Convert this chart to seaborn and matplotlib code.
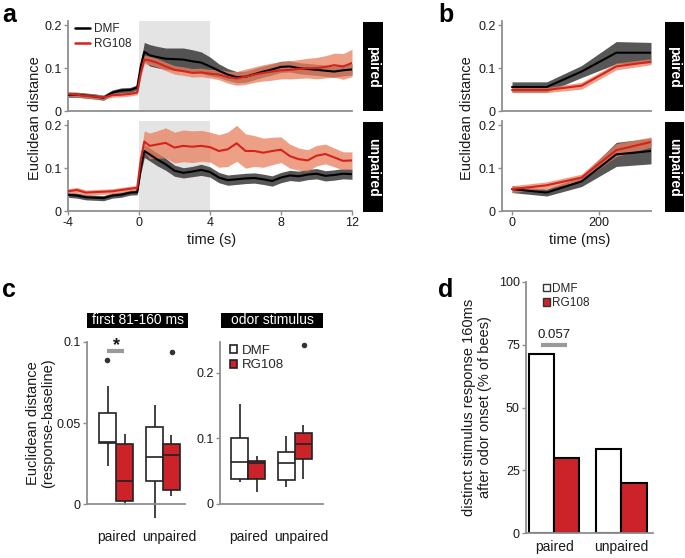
import numpy as np
import pandas as pd
import matplotlib
matplotlib.use("Agg")
import matplotlib.pyplot as plt
from matplotlib.lines import Line2D
from matplotlib.patches import Patch
import seaborn as sns

# ---------------- data ----------------
# panel a: time (s), mean trace and half-width of shaded band
t_a = [-4, -3.5, -3, -2.5, -2, -1.5, -1, -0.5, -0.1,
       0.1, 0.3, 0.6,
       1, 1.5, 2, 2.5, 3, 3.5, 4,
       4.5, 5, 5.5, 6, 6.5, 7, 7.5, 8, 8.5, 9, 9.5, 10, 10.5, 11, 11.5, 12]

paired_dmf = [.038, .038, .036, .034, .031, .043, .048, .049, .055,
              .105, .138, .130,
              .126, .122, .121, .120, .116, .113, .104,
              .094, .085, .079, .080, .086, .092, .097, .103, .104, .100, .098, .096, .094, .092, .095, .097]
paired_dmf_hw = [.006] * 9 + [.012, .022, .025] + [.025, .025, .026, .027, .027, .025, .022] + \
                [.016, .014, .013, .013, .013, .013, .013, .013, .013, .013, .013, .013, .013, .013, .013, .013]

paired_rg = [.040, .038, .035, .034, .032, .037, .038, .040, .043,
             .088, .120, .118,
             .113, .104, .096, .093, .089, .090, .087,
             .085, .079, .076, .080, .085, .089, .092, .095, .096, .098, .100, .100, .103, .107, .104, .112]
paired_rg_hw = [.005] * 9 + [.008, .010, .010] + [.010] * 7 + \
               [.012, .014, .016, .018, .018, .019, .020, .020, .021, .022, .023, .025, .026, .028, .030, .032]

unpaired_dmf = [.038, .036, .032, .031, .030, .036, .038, .043, .044,
                .100, .140, .132,
                .121, .109, .094, .089, .092, .096, .091,
                .078, .072, .074, .076, .077, .074, .070, .078, .083, .081, .085, .087, .082, .084, .087, .086]
unpaired_dmf_hw = [.006] * 9 + [.012, .015, .015] + [.015, .014, .013, .012, .012, .013, .012] + [.012] * 16

unpaired_rg = [.046, .049, .043, .044, .045, .046, .049, .052, .054,
               .120, .162, .152,
               .155, .159, .148, .152, .150, .152, .149,
               .140, .144, .158, .140, .140, .136, .140, .143, .128, .121, .118, .129, .133, .125, .117, .118]
unpaired_rg_hw = [.006] * 9 + [.015, .025, .030] + [.032, .035, .036, .037, .037, .036, .035] + \
                 [.038, .040, .042, .040, .036, .034, .032, .030, .028, .026, .025, .024, .023, .022, .021, .020]

# panel b: first 320 ms
t_b = [0, 80, 160, 240, 320]
b_paired_dmf = [.056, .056, .092, .136, .136]
b_paired_dmf_hw = [.012, .012, .014, .026, .024]
b_paired_rg = [.049, .049, .059, .104, .115]
b_paired_rg_hw = [.006, .006, .008, .008, .007]
b_unpaired_dmf = [.051, .043, .069, .132, .140]
b_unpaired_dmf_hw = [.008, .008, .012, .028, .030]
b_unpaired_rg = [.051, .060, .078, .142, .161]
b_unpaired_rg_hw = [.008, .008, .008, .015, .012]

# panel c: box summaries (low whisker, Q1, median, Q3, high whisker)
conditions = ["paired", "unpaired"]
treatments = ["DMF", "RG108"]
early_paired_dmf = [0.0237, 0.0375, 0.038, 0.056, 0.0726]
early_paired_rg = [-0.0006, 0.0016, 0.0142, 0.037, 0.0433]
early_unpaired_dmf = [-0.0087, 0.014, 0.0293, 0.0474, 0.0612]
early_unpaired_rg = [0.005, 0.0087, 0.0303, 0.037, 0.0427]
early_outliers = [("paired", "DMF", 0.0887), ("unpaired", "RG108", 0.0936)]

odor_paired_dmf = [0.034, 0.038, 0.0645, 0.101, 0.152]
odor_paired_rg = [0.019, 0.038, 0.063, 0.0655, 0.073]
odor_unpaired_dmf = [0.0254, 0.0366, 0.062, 0.0797, 0.104]
odor_unpaired_rg = [0.0376, 0.068, 0.0914, 0.109, 0.121]
odor_outliers = [("unpaired", "RG108", 0.243)]

# panel d: % of bees
d_dmf = [71.4, 33.3]
d_rg = [30.0, 20.0]

# ---------------- style ----------------
sns.set_theme(style="ticks")
plt.rcParams["font.family"] = ["Liberation Sans", "DejaVu Sans"]
RED = "#d4231d"
BOXRED = "#cc2229"
RED_BAND = "#e9805f"
BLK_BAND = "#3a3a3a"
SPINE = "#8f8f8f"
TXT = "#1a1a1a"

W, H = 685, 558
fig = plt.figure(figsize=(W / 100, H / 100), dpi=100)


def px_axes(x0, y0, x1, y1, **kw):
    return fig.add_axes([x0 / W, 1 - y1 / H, (x1 - x0) / W, (y1 - y0) / H], **kw)


def style_axes(ax):
    sns.despine(ax=ax)
    for s in ("left", "bottom"):
        ax.spines[s].set_color(SPINE)
        ax.spines[s].set_linewidth(1.3)
    ax.tick_params(colors=SPINE, labelcolor=TXT, labelsize=9, length=3, width=1, pad=1.5)


def label_box(x0, y0, x1, y1, text, rot=-90, size=10):
    bx = px_axes(x0, y0, x1, y1)
    bx.set_facecolor("black")
    bx.set_xticks([])
    bx.set_yticks([])
    for s in bx.spines.values():
        s.set_visible(False)
    bx.text(0.5, 0.5, text, color="white", rotation=rot, ha="center", va="center",
            fontsize=size, fontweight="bold" if rot else "normal", transform=bx.transAxes)


def trace(ax, t, mean, hw, band, alpha):
    lo = np.array(mean) - np.array(hw)
    hi = np.array(mean) + np.array(hw)
    ax.fill_between(t, lo, hi, color=band, alpha=alpha, lw=0, zorder=1)


def lines(ax, t, dmf, rg):
    df = pd.DataFrame({"time": list(t) * 2, "value": list(dmf) + list(rg),
                       "group": ["DMF"] * len(t) + ["RG108"] * len(t)})
    sns.lineplot(data=df, x="time", y="value", hue="group", palette={"DMF": "black", "RG108": RED},
                 linewidth=1.5, legend=False, ax=ax, zorder=3)


# ---------------- panel a ----------------
a_top = px_axes(68, 21, 352, 111)
a_bot = px_axes(68, 121, 352, 211)
for ax, dm, dmh, rg, rgh in [(a_top, paired_dmf, paired_dmf_hw, paired_rg, paired_rg_hw),
                             (a_bot, unpaired_dmf, unpaired_dmf_hw, unpaired_rg, unpaired_rg_hw)]:
    ax.axvspan(0, 4, color="#e4e4e4", lw=0, zorder=0)
    trace(ax, t_a, dm, dmh, BLK_BAND, 0.85)
    trace(ax, t_a, rg, rgh, RED_BAND, 0.75)
    lines(ax, t_a, dm, rg)
    ax.set_xlim(-4, 12)
    ax.set_ylim(0, 0.21)
    ax.set_yticks([0, 0.1, 0.2])
    ax.set_yticklabels(["0", "0.1", "0.2"])
    ax.set_xlabel("")
    ax.set_ylabel("")
    style_axes(ax)
a_top.set_xticks([])
a_bot.set_xticks([-4, 0, 4, 8, 12])
a_bot.set_xticklabels(["-4", "0", "4", "8", "12"])
a_top.legend(handles=[Line2D([], [], color="black", lw=1.8, label="DMF"),
                      Line2D([], [], color=RED, lw=1.8, label="RG108")],
             loc="upper left", bbox_to_anchor=(0.0, 1.06), frameon=False, fontsize=8.5,
             handlelength=1.3, handletextpad=0.3, labelspacing=0.25, borderaxespad=0.2)
fig.text(35 / W, 1 - 118 / H, "Euclidean distance", rotation=90, ha="center", va="center", fontsize=10.5, color=TXT)
fig.text(212 / W, 1 - 240 / H, "time (s)", ha="center", va="center", fontsize=10.5, color=TXT)
label_box(363, 22, 383, 111, "paired")
label_box(363, 122, 383, 212, "unpaired")

# ---------------- panel b ----------------
b_top = px_axes(502, 21, 651, 111)
b_bot = px_axes(502, 121, 651, 211)
for ax, dm, dmh, rg, rgh in [(b_top, b_paired_dmf, b_paired_dmf_hw, b_paired_rg, b_paired_rg_hw),
                             (b_bot, b_unpaired_dmf, b_unpaired_dmf_hw, b_unpaired_rg, b_unpaired_rg_hw)]:
    trace(ax, t_b, dm, dmh, BLK_BAND, 0.85)
    trace(ax, t_b, rg, rgh, RED_BAND, 0.75)
    lines(ax, t_b, dm, rg)
    ax.set_xlim(-23, 320)
    ax.set_ylim(0, 0.21)
    ax.set_yticks([0, 0.1, 0.2])
    ax.set_yticklabels(["0", "0.1", "0.2"])
    ax.set_xlabel("")
    ax.set_ylabel("")
    style_axes(ax)
b_top.set_xticks([])
b_bot.set_xticks([0, 200])
fig.text(467 / W, 1 - 118 / H, "Euclidean distance", rotation=90, ha="center", va="center", fontsize=10.5, color=TXT)
fig.text(580 / W, 1 - 240 / H, "time (ms)", ha="center", va="center", fontsize=10.5, color=TXT)
label_box(665, 22, 684, 111, "paired")
label_box(665, 122, 684, 212, "unpaired")


# ---------------- panel c ----------------
def box_df(pd_, pr, ud, ur):
    rows = []
    for cond, trt, vals in [("paired", "DMF", pd_), ("paired", "RG108", pr),
                            ("unpaired", "DMF", ud), ("unpaired", "RG108", ur)]:
        rows += [(cond, trt, v) for v in vals]
    return pd.DataFrame(rows, columns=["condition", "treatment", "value"])


def box_panel(ax, df, outliers, ylim, legend):
    sns.boxplot(data=df, x="condition", y="value", hue="treatment", order=conditions, hue_order=treatments,
                palette={"DMF": "white", "RG108": BOXRED}, saturation=1, linecolor="#222222", linewidth=1.2,
                width=0.72, whis=(0, 100), showfliers=False, legend=legend, ax=ax,
                capprops={"linewidth": 0})
    od = pd.DataFrame(outliers, columns=["condition", "treatment", "value"])
    sns.stripplot(data=od, x="condition", y="value", hue="treatment", order=conditions, hue_order=treatments,
                  palette={"DMF": "#333333", "RG108": "#333333"}, dodge=True, jitter=False, size=4,
                  legend=False, ax=ax)
    ax.set_ylim(*ylim)
    ax.set_xlabel("")
    ax.set_ylabel("")
    style_axes(ax)
    ax.spines["bottom"].set_position(("data", 0))
    ax.spines["left"].set_bounds(0, ylim[1])
    # labels sit a little right of the "unpaired" group centre, as in the figure
    ax.set_xticks([0, 1.13])
    ax.set_xticklabels(conditions)
    ax.tick_params(axis="x", length=0, pad=19, labelsize=10)


c_left = px_axes(87, 342, 185, 523)
box_panel(c_left, box_df(early_paired_dmf, early_paired_rg, early_unpaired_dmf, early_unpaired_rg),
          early_outliers, (-0.0117, 0.1), False)
c_left.set_xlim(-0.62, 1.47)
c_left.set_yticks([0, 0.05, 0.1])
c_left.set_yticklabels(["0", "0.05", "0.1"])
c_left.plot([-0.19, 0.17], [0.0946, 0.0946], color="#9a9a9a", lw=3, solid_capstyle="butt", clip_on=False)
c_left.text(0.0, 0.0975, "*", ha="center", va="center", fontsize=13, fontweight="bold", color=TXT)

c_right = px_axes(220, 342, 323, 523)
box_panel(c_right, box_df(odor_paired_dmf, odor_paired_rg, odor_unpaired_dmf, odor_unpaired_rg),
          odor_outliers, (-0.029, 0.247), True)
c_right.set_xlim(-0.6, 1.6)
c_right.set_yticks([0, 0.1, 0.2])
c_right.set_yticklabels(["0", "0.1", "0.2"])
c_right.legend(loc="upper left", bbox_to_anchor=(-0.02, 1.05), frameon=False, fontsize=9.5,
               handlelength=0.55, handleheight=0.55, handletextpad=0.35, labelspacing=0.2)

label_box(87, 313, 188, 328, "first 81-160 ms", rot=0, size=10)
label_box(221, 313, 323, 328, "odor stimulus", rot=0, size=10)
fig.text(41 / W, 1 - 423 / H, "Euclidean distance\n(response-baseline)", rotation=90, ha="center",
         va="center", fontsize=10.5, color=TXT, linespacing=1.1)

# ---------------- panel d ----------------
d_ax = px_axes(526, 282, 653, 533)
dd = pd.DataFrame({"condition": conditions * 2, "treatment": ["DMF"] * 2 + ["RG108"] * 2,
                   "percent": d_dmf + d_rg})
sns.barplot(data=dd, x="condition", y="percent", hue="treatment", order=conditions, hue_order=treatments,
            palette={"DMF": "white", "RG108": BOXRED}, saturation=1, edgecolor="black", linewidth=1.5,
            width=0.75, legend=False, ax=d_ax)
d_ax.set_xlim(-0.42, 1.47)
d_ax.set_ylim(0, 100)
d_ax.set_yticks([0, 25, 50, 75, 100])
d_ax.set_xlabel("")
d_ax.set_ylabel("")
style_axes(d_ax)
d_ax.tick_params(axis="x", length=0, pad=5, labelsize=10)
d_ax.plot([-0.19, 0.19], [75, 75], color="#9a9a9a", lw=3, solid_capstyle="butt", clip_on=False)
d_ax.text(0.0, 78.8, "0.057", ha="center", va="center", fontsize=9.5, color=TXT)
d_ax.legend(handles=[Patch(facecolor="white", edgecolor="#333333", label="DMF"),
                     Patch(facecolor=BOXRED, edgecolor="#333333", label="RG108")],
            loc="upper left", bbox_to_anchor=(0.05, 1.04), frameon=False, fontsize=8.5,
            handlelength=0.6, handleheight=0.6, handletextpad=0.15, labelspacing=0.2)
fig.text(477 / W, 1 - 407 / H, "distinct stimulus response 160ms\nafter odor onset (% of bees)", rotation=90,
         ha="center", va="center", fontsize=10.5, color=TXT, linespacing=1.1)

# ---------------- panel letters ----------------
for letter, x, y in [("a", 9, 15), ("b", 446, 15), ("c", 9, 290), ("d", 446, 290)]:
    fig.text(x / W, 1 - y / H, letter, ha="center", va="center", fontsize=18, fontweight="bold", color="black")

fig.savefig("out.png", dpi=100)
